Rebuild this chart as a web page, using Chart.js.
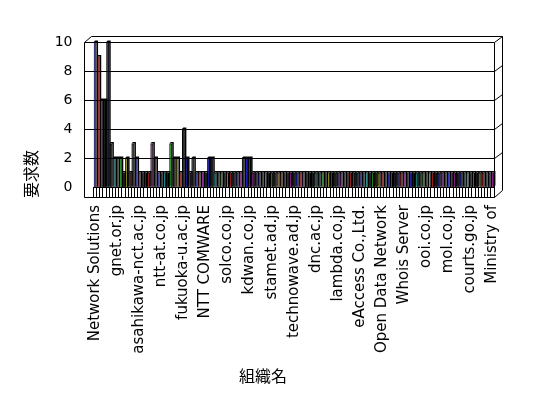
<!DOCTYPE html>
<html>
<head>
<meta charset="utf-8">
<script src="https://cdn.jsdelivr.net/npm/chart.js@4/dist/chart.umd.min.js"></script>
<style>
    body { margin: 0; background: #fff; }
</style>
</head>
<body>
<canvas id="chart" width="548" height="398"></canvas>
<script>
// organisation names that are printed (every 7th category)
var shownNames = [
    'Network Solutions', 'gnet.or.jp', 'asahikawa-nct.ac.jp', 'ntt-at.co.jp',
    'fukuoka-u.ac.jp', 'NTT COMWARE', 'solco.co.jp', 'kdwan.co.jp',
    'stamet.ad.jp', 'technowave.ad.jp', 'dnc.ac.jp', 'lambda.co.jp',
    'eAccess Co.,Ltd.', 'Open Data Network', 'Whois Server', 'ooi.co.jp',
    'mol.co.jp', 'courts.go.jp', 'Ministry of'
];
var labelEvery = 7;

// 要求数 per organisation
var requestCounts = [
    10, 9, 6, 6, 10, 3, 2, 2, 2, 1,
    2, 1, 3, 2, 1, 1, 1, 1, 3, 2,
    1, 1, 1, 1, 3, 2, 2, 1, 4, 2,
    1, 2, 1, 1, 1, 1, 2, 2, 1, 1,
    1, 1, 1, 1, 1, 1, 1, 2, 2, 2,
    1, 1, 1, 1, 1, 1, 1, 1, 1, 1,
    1, 1, 1, 1, 1, 1, 1, 1, 1, 1,
    1, 1, 1, 1, 1, 1, 1, 1, 1, 1,
    1, 1, 1, 1, 1, 1, 1, 1, 1, 1,
    1, 1, 1, 1, 1, 1, 1, 1, 1, 1,
    1, 1, 1, 1, 1, 1, 1, 1, 1, 1,
    1, 1, 1, 1, 1, 1, 1, 1, 1, 1,
    1, 1, 1, 1, 1, 1, 1
];

var yTicks = [0, 2, 4, 6, 8, 10];

var categories = requestCounts.map(function (v, i) {
    return (i % labelEvery === 0) ? shownNames[i / labelEvery] : '';
});

// old office palette, cycled over the bars (lots of black fronts)
var palette = ['#0000c0', '#a00000', '#800080', '#000000', '#0000a0', '#000000',
               '#008080', '#000000', '#008000', '#000000', '#808000', '#a00000',
               '#000000', '#000080', '#800080', '#000000'];
var barColors = requestCounts.map(function (v, i) { return palette[i % palette.length]; });

var DEPTH = 1.5;

// back wall, floor and the black depth faces of the columns
var frame3d = {
    id: 'frame3d',
    beforeDatasetsDraw: function (chart) {
        var ctx = chart.ctx;
        var a = chart.chartArea;
        var y = chart.scales.y;
        var fl = Math.round(a.left - 9.5) + 0.5;
        var fr = Math.round(a.right) + 0.5;
        var br = fr + 8;
        var top = Math.round(y.getPixelForValue(10)) + 0.5;
        var bot = Math.round(a.bottom + 10) + 0.5;

        ctx.save();
        ctx.strokeStyle = '#000';
        ctx.lineWidth = 1;
        ctx.beginPath();
        yTicks.forEach(function (v) {
            if (v === 0) return;
            var py = Math.round(y.getPixelForValue(v)) + 0.5;
            ctx.moveTo(fl, py);
            ctx.lineTo(fr, py);
            ctx.lineTo(br, py - 6);
        });
        ctx.moveTo(fl, bot);
        ctx.lineTo(fl, top);
        ctx.lineTo(fl + 7, top - 6);
        ctx.lineTo(br, top - 6);
        ctx.lineTo(br, bot - 7);
        ctx.lineTo(fr, bot);
        ctx.lineTo(fl, bot);
        ctx.moveTo(fr, top);
        ctx.lineTo(fr, bot);
        ctx.stroke();

        ctx.fillStyle = '#000';
        chart.getDatasetMeta(0).data.forEach(function (el) {
            var p = el.getProps(['x', 'y', 'base', 'width'], true);
            var l = p.x - p.width / 2, r = p.x + p.width / 2;
            ctx.beginPath();
            ctx.moveTo(l, p.y);
            ctx.lineTo(l + DEPTH, p.y - DEPTH);
            ctx.lineTo(r + DEPTH, p.y - DEPTH);
            ctx.lineTo(r + DEPTH, p.base - DEPTH);
            ctx.lineTo(r, p.base);
            ctx.lineTo(r, p.y);
            ctx.closePath();
            ctx.fill();
        });
        ctx.restore();
    },
    afterDraw: function (chart) {
        var ctx = chart.ctx;
        ctx.save();
        ctx.fillStyle = '#000';
        ctx.textAlign = 'center';
        ctx.textBaseline = 'middle';
        ctx.font = '16px "Noto Sans CJK JP"';
        ctx.translate(31, 174);
        ctx.rotate(-Math.PI / 2);
        ctx.fillText('要求数', 0, 0);
        ctx.restore();

        ctx.save();
        ctx.fillStyle = '#000';
        ctx.textAlign = 'center';
        ctx.textBaseline = 'middle';
        ctx.font = '16px "Noto Sans CJK JP"';
        ctx.fillText('組織名', 263, 376);
        ctx.restore();
    }
};

new Chart(document.getElementById('chart'), {
    type: 'bar',
    data: {
        labels: categories,
        datasets: [{
            label: '要求数',
            data: requestCounts,
            backgroundColor: barColors,
            borderColor: '#000',
            borderWidth: { left: 1.1, right: 1.1, top: 1, bottom: 0 },
            barPercentage: 0.95,
            categoryPercentage: 1
        }]
    },
    options: {
        responsive: false,
        animation: false,
        devicePixelRatio: 1,
        layout: {
            padding: { left: 53.5, right: 54, top: 42, bottom: 0 }
        },
        plugins: {
            legend: { display: false },
            tooltip: { enabled: false }
        },
        scales: {
            x: {
                offset: true,
                grid: {
                    offset: true,
                    drawOnChartArea: false,
                    drawTicks: true,
                    tickLength: 10,
                    color: '#000'
                },
                border: { display: true, color: '#000' },
                ticks: {
                    autoSkip: false,
                    minRotation: 90,
                    maxRotation: 90,
                    padding: 8,
                    color: '#000',
                    font: { family: 'DejaVu Sans', size: 15 }
                },
                afterFit: function (scale) { scale.height = 211; }
            },
            y: {
                min: 0,
                max: 10,
                grid: { display: false, drawTicks: false },
                border: { display: false },
                ticks: {
                    stepSize: 2,
                    padding: 21,
                    color: '#000',
                    font: { family: 'DejaVu Sans', size: 14 }
                },
                afterFit: function (scale) { scale.width = 40; }
            }
        }
    },
    plugins: [frame3d]
});
</script>
</body>
</html>
